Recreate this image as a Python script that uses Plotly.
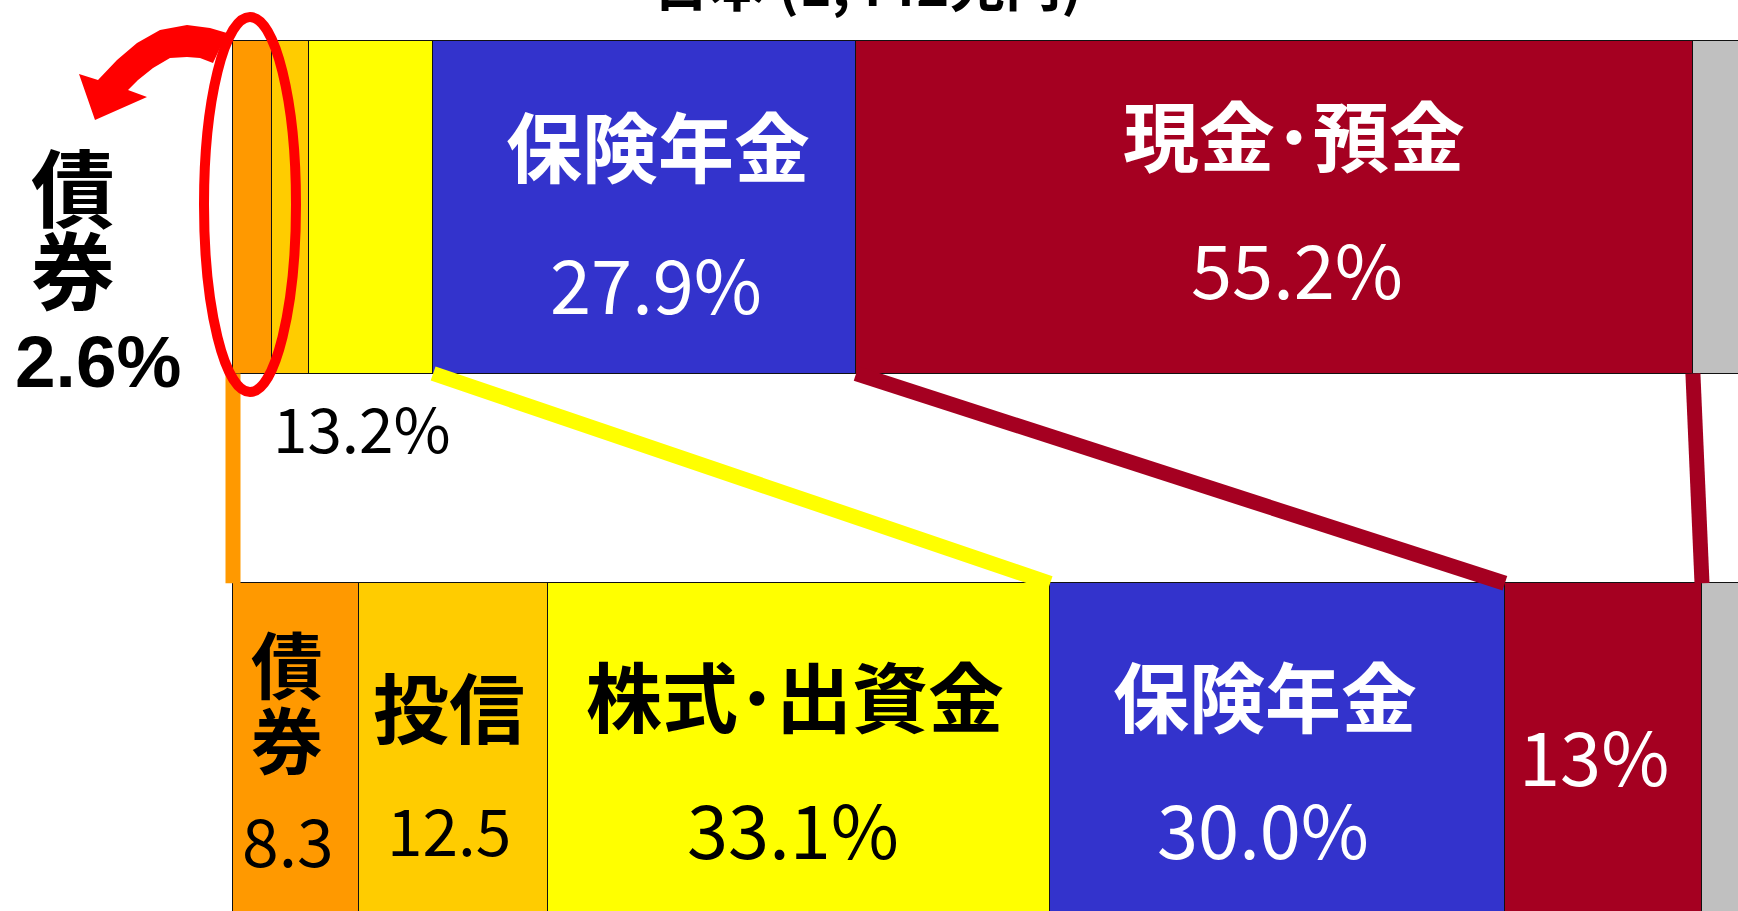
import plotly.graph_objects as go

# ---------------- data ----------------
categories = ["債券", "投信", "株式･出資金", "保険年金", "現金･預金", "その他"]
japan_values = [2.6, 2.4, 8.2, 27.9, 55.2, 3.7]
us_values = [8.3, 12.5, 33.1, 30.0, 13.0, 3.1]
colors = ["#FF9900", "#FFCC00", "#FFFF00", "#3333CC", "#A50021", "#C0C0C0"]
title_text = "日本 (1,442兆円)"

# ---------------- layout constants ----------------
W, H = 1738, 911
X0_PX = 233.0          # pixel where 0 % sits
PX_PER_PCT = 15.16     # pixels per percent
JP_Y, US_Y, BAR_H = 207.25, 749.5, 332.5   # y axis runs in pixel-like units (reversed)
CJK = "Noto Sans CJK JP"


def px2x(px):
    return (px - X0_PX) / PX_PER_PCT


def cumsum(v):
    out, s = [], 0.0
    for a in v:
        s += a
        out.append(s)
    return out


jp_cum = cumsum(japan_values)
us_cum = cumsum(us_values)
jp_mid = [c - v / 2 for c, v in zip(jp_cum, japan_values)]
us_mid = [c - v / 2 for c, v in zip(us_cum, us_values)]

fig = go.Figure()

# stacked bars
for i, cat in enumerate(categories):
    fig.add_trace(go.Bar(
        x=[japan_values[i], us_values[i]], y=[JP_Y, US_Y], orientation="h",
        width=BAR_H, name=cat,
        marker=dict(color=colors[i], line=dict(color="#111111", width=1.5)),
        hoverinfo="skip",
    ))

# connector lines between the two bars
jp_bottom = JP_Y + BAR_H / 2
us_top = US_Y - BAR_H / 2
connectors = [
    (0.0, 0.0, colors[0]),
    (jp_cum[2], us_cum[2], colors[2]),
    (jp_cum[3], us_cum[3], colors[4]),
    (jp_cum[4], us_cum[4], colors[4]),
]
for xa, xb, col in connectors:
    fig.add_trace(go.Scatter(x=[xa, xb], y=[jp_bottom, us_top], mode="lines",
                             line=dict(color=col, width=15), hoverinfo="skip"))

ann = []


def add(text, x, y, size, color="black", bold=False, family=CJK, xshift=0,
        xanchor="center", xref="x", yref="y"):
    ann.append(dict(text=text, x=x, y=y, xref=xref, yref=yref, showarrow=False,
                    xanchor=xanchor, yanchor="middle", xshift=xshift,
                    font=dict(family=family, size=size, color=color,
                              weight="bold" if bold else "normal")))


# title (mostly cut off at the top)
add(title_text, 867 / W, 1 + 19 / H, 56, bold=True, xref="paper", yref="paper")

# top bar (Japan)
add(categories[3], jp_mid[3], 144, 76, "white", True, xshift=13)
add(f"{japan_values[3]:.1f}%", jp_mid[3], 281, 74, "white", xshift=11)
add(categories[4], jp_mid[4], 133, 76, "white", True, xshift=20)
add(f"{japan_values[4]:.1f}%", jp_mid[4], 266, 74, "white", xshift=23)
add(f"{sum(japan_values[:3]):.1f}%", jp_cum[2], 426, 62, xanchor="right", xshift=20)

# left callout
add(categories[0][0], px2x(73), 184, 84, bold=True)
add(categories[0][1], px2x(73), 266, 84, bold=True)
add(f"{japan_values[0]:.1f}%", px2x(98), 361, 73, bold=True, family="Liberation Sans")

# bottom bar (US)
add(categories[0][0], us_mid[0], 661, 72, bold=True, xshift=-9)
add(categories[0][1], us_mid[0], 736, 72, bold=True, xshift=-9)
add(f"{us_values[0]:.1f}", us_mid[0], 838, 66, xshift=-8)
add(categories[1], us_mid[1], 705, 76, bold=True, xshift=-5)
add(f"{us_values[1]:.1f}", us_mid[1], 828, 64, xshift=-5)
add(categories[2], us_mid[2], 694, 76, bold=True, xshift=-4)
add(f"{us_values[2]:.1f}%", us_mid[2], 826, 74, xshift=-6)
add(categories[3], us_mid[3], 694, 76, "white", True, xshift=-13)
add(f"{us_values[3]:.1f}%", us_mid[3], 826, 74, "white", xshift=-15)
add(f"{us_values[4]:.0f}%", us_mid[4], 753, 74, "white", xshift=-9)

# highlight ellipse and curved arrow (decoration, pixel based)
shapes = [dict(type="circle", xref="x", yref="y",
               x0=px2x(204), x1=px2x(296), y0=17, y1=392,
               line=dict(color="#FF0000", width=10), layer="above")]
arrow_px = [(227, 33), (210, 28), (187, 25), (160, 30), (137, 43), (117, 60), (98, 80),
            (79, 74), (95, 120), (147, 97), (128, 90), (138, 80), (153, 68), (170, 58),
            (187, 57), (200, 58), (213, 63)]
path = "M " + " L ".join(f"{px2x(px):.4f},{py}" for px, py in arrow_px) + " Z"
shapes.append(dict(type="path", xref="x", yref="y", path=path,
                   fillcolor="#FF0000", line=dict(width=0), layer="above"))

fig.update_layout(
    width=W, height=H, margin=dict(l=0, r=0, t=0, b=0),
    barmode="stack", bargap=0, showlegend=False,
    plot_bgcolor="white", paper_bgcolor="white",
    xaxis=dict(range=[px2x(0), px2x(W)], visible=False, fixedrange=True),
    yaxis=dict(range=[H, 0], visible=False, fixedrange=True),
    annotations=ann, shapes=shapes,
)

fig.write_html("out.html")
